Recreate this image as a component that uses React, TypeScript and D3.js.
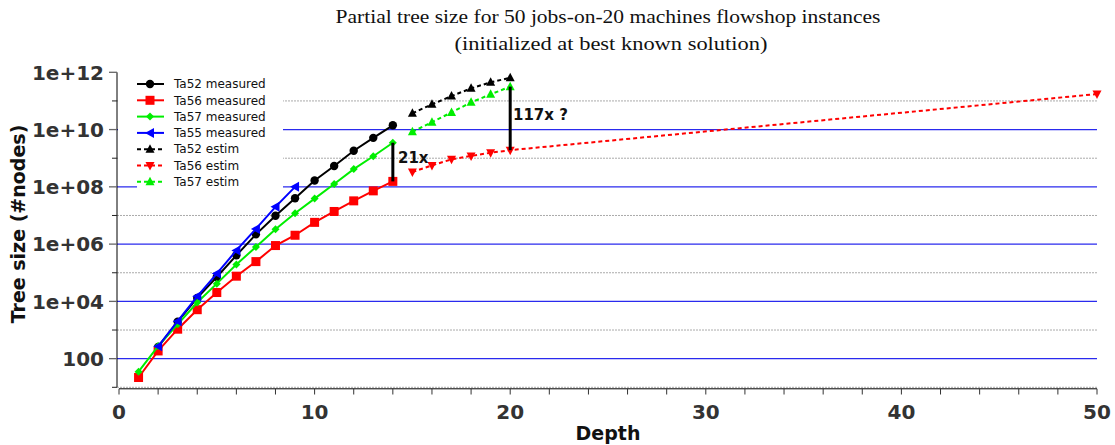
import React from "react";
import * as d3 from "d3";

const W = 1115;
const H = 445;

const titleLines = [
  "Partial tree size for 50 jobs-on-20 machines flowshop instances",
  "(initialized at best known solution)",
];

const xTicksMajor = [0, 10, 20, 30, 40, 50];
const xTicksMinor = d3.range(0, 51, 2);
const yTicksMajor = [1e2, 1e4, 1e6, 1e8, 1e10, 1e12];
const yTickLabels = ["100", "1e+04", "1e+06", "1e+08", "1e+10", "1e+12"];
const yTicksMinor = [1e1, 1e3, 1e5, 1e7, 1e9, 1e11];

const depthTa52M = [2, 3, 4, 5, 6, 7, 8, 9, 10, 11, 12, 13, 14];
const ta52Measured = [257, 1950, 13200, 70800, 407000, 2.19e6, 9.77e6, 3.98e7, 1.66e8, 5.37e8, 1.82e9, 5.13e9, 1.41e10];

const depthTa56M = [1, 2, 3, 4, 5, 6, 7, 8, 9, 10, 11, 12, 13, 14];
const ta56Measured = [22, 186, 1070, 5130, 20400, 75900, 245000, 891000, 2.04e6, 5.75e6, 1.38e7, 3.24e7, 7.24e7, 1.55e8];

const depthTa57M = [1, 2, 3, 4, 5, 6, 7, 8, 9, 10, 11, 12, 13, 14];
const ta57Measured = [35, 275, 1580, 9120, 41700, 195000, 794000, 3.31e6, 1.2e7, 3.89e7, 1.26e8, 4.17e8, 1.17e9, 3.47e9];

const depthTa55M = [2, 3, 4, 5, 6, 7, 8, 9];
const ta55Measured = [269, 2040, 15100, 93300, 603000, 3.39e6, 2.0e7, 1.0e8];

const depthEstim = [15, 16, 17, 18, 19, 20];
const ta52Estim = [3.72e10, 7.59e10, 1.48e11, 2.75e11, 4.47e11, 6.46e11];
const ta57Estim = [8.32e9, 1.82e10, 3.98e10, 8.91e10, 1.7e11, 3.16e11];
const depthTa56E = [15, 16, 17, 18, 19, 20, 50];
const ta56Estim = [3.31e8, 5.62e8, 9.12e8, 1.2e9, 1.55e9, 1.91e9, 1.74e11];

const ratioLabels = ["21x", "117x ?"];

type Marker = "circle" | "square" | "diamond" | "tleft" | "tup" | "tdown";

interface Series {
  name: string;
  xs: number[];
  ys: number[];
  color: string;
  marker: Marker;
  dashed: boolean;
}

const series: Series[] = [
  { name: "Ta52 measured", xs: depthTa52M, ys: ta52Measured, color: "#000000", marker: "circle", dashed: false },
  { name: "Ta56 measured", xs: depthTa56M, ys: ta56Measured, color: "#ff0000", marker: "square", dashed: false },
  { name: "Ta57 measured", xs: depthTa57M, ys: ta57Measured, color: "#00ee00", marker: "diamond", dashed: false },
  { name: "Ta55 measured", xs: depthTa55M, ys: ta55Measured, color: "#0000ff", marker: "tleft", dashed: false },
  { name: "Ta52 estim", xs: depthEstim, ys: ta52Estim, color: "#000000", marker: "tup", dashed: true },
  { name: "Ta56 estim", xs: depthTa56E, ys: ta56Estim, color: "#ff0000", marker: "tdown", dashed: true },
  { name: "Ta57 estim", xs: depthEstim, ys: ta57Estim, color: "#00ee00", marker: "tup", dashed: true },
];

const x = d3.scaleLinear().domain([0, 50]).range([119, 1097]);
const y = d3.scaleLog().domain([10, 1e12]).range([387.3, 72.3]);

function MarkerShape({ kind, cx, cy, color }: { kind: Marker; cx: number; cy: number; color: string }) {
  switch (kind) {
    case "circle":
      return <circle cx={cx} cy={cy} r={4.2} fill={color} />;
    case "square":
      return <rect x={cx - 4.5} y={cy - 4.5} width={9} height={9} fill={color} />;
    case "diamond":
      return <path d={`M${cx},${cy - 4}L${cx + 4},${cy}L${cx},${cy + 4}L${cx - 4},${cy}Z`} fill={color} />;
    case "tleft":
      return <path d={`M${cx - 5},${cy}L${cx + 4},${cy - 5}L${cx + 4},${cy + 5}Z`} fill={color} />;
    case "tup":
      return <path d={`M${cx},${cy - 5}L${cx + 4.5},${cy + 3.5}L${cx - 4.5},${cy + 3.5}Z`} fill={color} />;
    case "tdown":
      return <path d={`M${cx},${cy + 5}L${cx + 4.5},${cy - 3.5}L${cx - 4.5},${cy - 3.5}Z`} fill={color} />;
  }
}

export default function App() {
  const line = d3
    .line<[number, number]>()
    .x((d) => x(d[0]))
    .y((d) => y(d[1]));

  const tickFont = "'DejaVu Sans', sans-serif";
  const x0 = x(0) - 2;
  const x1 = x(50);

  const a1x = x(14);
  const a1top = y(ta57Measured[ta57Measured.length - 1]);
  const a1bot = y(ta56Measured[ta56Measured.length - 1]);
  const a2x = x(20);
  const a2top = y(ta57Estim[ta57Estim.length - 1]);
  const a2bot = y(ta56Estim[5]);

  return (
    <svg width={W} height={H} style={{ position: "absolute", left: 0, top: 0 }}>
      <rect width={W} height={H} fill="#ffffff" />
      <text x={608} y={23} textAnchor="middle" fontFamily="'Liberation Serif', serif" fontSize={18} fill="#111" textLength={545} lengthAdjust="spacingAndGlyphs">
        {titleLines[0]}
      </text>
      <text x={611} y={50} textAnchor="middle" fontFamily="'Liberation Serif', serif" fontSize={18} fill="#111" textLength={313} lengthAdjust="spacingAndGlyphs">
        {titleLines[1]}
      </text>

      {yTicksMinor.map((v) => (
        <line key={"gm" + v} x1={x0} x2={x1} y1={y(v)} y2={y(v)} stroke="#aaaaaa" strokeWidth={1} strokeDasharray="2,1" />
      ))}
      {yTicksMajor.filter((v) => v < 1e12).map((v) => (
        <line key={"gM" + v} x1={x0} x2={x1} y1={y(v)} y2={y(v)} stroke="#2a2aee" strokeWidth={1.3} />
      ))}

      <line x1={x0} x2={x0} y1={y(1e12)} y2={y(10)} stroke="#000" strokeWidth={1} />
      <line x1={x(0)} x2={x1} y1={388.8} y2={388.8} stroke="#000" strokeWidth={1} />
      {yTicksMajor.map((v, i) => (
        <g key={"yt" + v}>
          <line x1={x0 - 8} x2={x0} y1={y(v)} y2={y(v)} stroke="#666" strokeWidth={1.3} />
          <text x={104} y={y(v)} dy="0.36em" textAnchor="end" fontFamily={tickFont} fontWeight="bold" fontSize={20} fill="#333">
            {yTickLabels[i]}
          </text>
        </g>
      ))}
      {yTicksMinor.map((v) => (
        <line key={"ytm" + v} x1={x0 - 5} x2={x0} y1={y(v)} y2={y(v)} stroke="#222" strokeWidth={1} />
      ))}
      {xTicksMinor.map((v) => (
        <line key={"xt" + v} x1={x(v)} x2={x(v)} y1={388.8} y2={394.5} stroke="#333" strokeWidth={1} />
      ))}
      {xTicksMajor.map((v) => (
        <text key={"xl" + v} x={x(v)} y={419} textAnchor="middle" fontFamily={tickFont} fontWeight="bold" fontSize={20} fill="#333">
          {String(v)}
        </text>
      ))}
      <text x={608} y={440} textAnchor="middle" fontFamily={tickFont} fontWeight="bold" fontSize={19} fill="#111">
        Depth
      </text>
      <text transform="translate(25,224) rotate(-90)" textAnchor="middle" fontFamily={tickFont} fontWeight="bold" fontSize={19} fill="#111">
        Tree size (#nodes)
      </text>

      {series.map((s) => {
        const pts = s.xs.map((d, i) => [d, s.ys[i]] as [number, number]);
        return (
          <g key={s.name}>
            <path d={line(pts) || ""} fill="none" stroke={s.color} strokeWidth={2} strokeDasharray={s.dashed ? "4,3" : undefined} />
            {pts.map((p, i) => (
              <MarkerShape key={i} kind={s.marker} cx={x(p[0])} cy={y(p[1])} color={s.color} />
            ))}
          </g>
        );
      })}

      <line x1={a1x} x2={a1x} y1={a1top} y2={a1bot} stroke="#000" strokeWidth={3} />
      <text x={398} y={163} fontFamily={tickFont} fontWeight="bold" fontSize={15} fill="#111">
        {ratioLabels[0]}
      </text>
      <line x1={a2x} x2={a2x} y1={a2top} y2={a2bot} stroke="#000" strokeWidth={3} />
      <text x={513} y={120} fontFamily={tickFont} fontWeight="bold" fontSize={15} fill="#111">
        {ratioLabels[1]}
      </text>

      <rect x={118} y={74} width={165} height={110} fill="#ffffff" />
      <rect x={137} y={184} width={146} height={6} fill="#ffffff" />
      {series.map((s, i) => {
        const ly = 84 + i * 16.3;
        return (
          <g key={"lg" + s.name}>
            <line x1={137} x2={164} y1={ly} y2={ly} stroke={s.color} strokeWidth={2} strokeDasharray={s.dashed ? "4,3" : undefined} />
            <MarkerShape kind={s.marker} cx={150} cy={ly} color={s.color} />
            <text x={174} y={ly} dy="0.35em" fontFamily={tickFont} fontSize={12} fill="#111">
              {s.name}
            </text>
          </g>
        );
      })}
    </svg>
  );
}
